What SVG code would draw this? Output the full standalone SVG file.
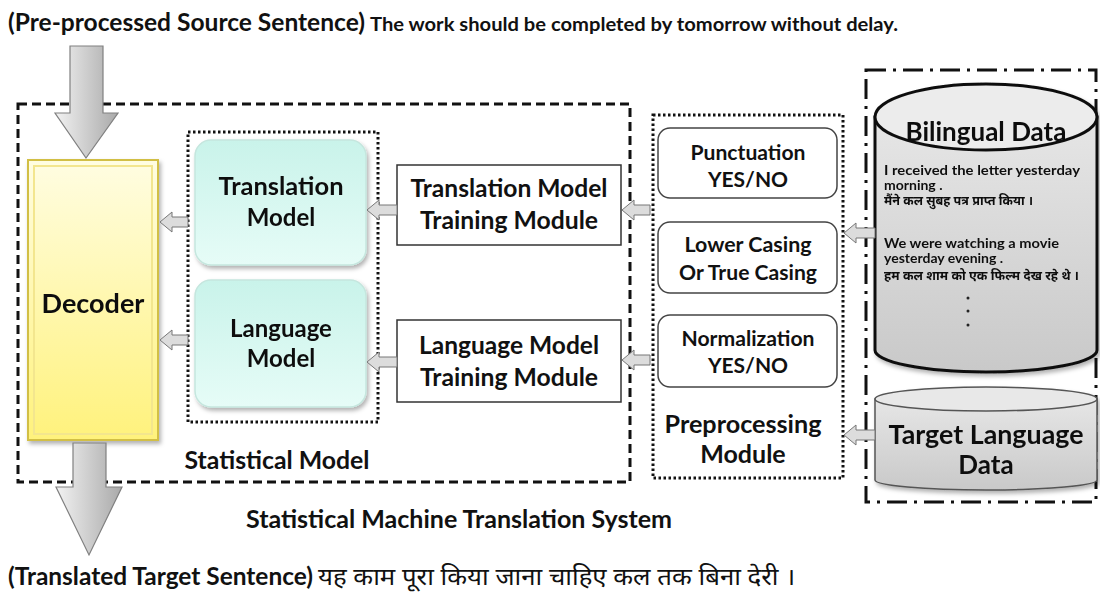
<svg xmlns="http://www.w3.org/2000/svg" width="1100" height="593" viewBox="0 0 1100 593">
<style>
text{font-family:"Lato","Liberation Sans",sans-serif;font-weight:bold;fill:#111;}
.hi{font-family:"Noto Sans Devanagari","Noto Sans","Lato","Liberation Sans",sans-serif;}
.c{text-anchor:middle;}
.box{fill:#fff;stroke:#333;stroke-width:1.5;}
.opt{fill:#fff;stroke:#444;stroke-width:1.5;}
.model{fill:url(#gCyan);stroke:#c5e6de;stroke-width:1.5;}
.sarrow{fill:#dcdcdc;stroke:#777;stroke-width:1;}
.big{fill:url(#gGray);stroke:#808080;stroke-width:1.2;}
</style>
<defs>
<linearGradient id="gGray" x1="0" y1="0" x2="1" y2="0">
<stop offset="0" stop-color="#f2f2f2"/><stop offset="1" stop-color="#a9a9a9"/>
</linearGradient>
<linearGradient id="gCyan" x1="0" y1="0" x2="0" y2="1">
<stop offset="0" stop-color="#c9f3ea"/><stop offset="1" stop-color="#e6fcf7"/>
</linearGradient>
<linearGradient id="gYel" x1="0" y1="0" x2="0" y2="1">
<stop offset="0" stop-color="#fffde2"/><stop offset="1" stop-color="#fff27c"/>
</linearGradient>
<linearGradient id="gCyl" x1="0" y1="0" x2="0" y2="1">
<stop offset="0" stop-color="#e6e6e6"/><stop offset="1" stop-color="#c9c9c9"/>
</linearGradient>
<filter id="sh" x="-10%" y="-10%" width="125%" height="125%">
<feDropShadow dx="2" dy="3" stdDeviation="2" flood-color="#000" flood-opacity="0.3"/>
</filter>
</defs>

<!-- titles -->
<text x="8" y="31" font-size="24" textLength="357" lengthAdjust="spacingAndGlyphs">(Pre-processed Source Sentence)</text>
<text x="370" y="31" font-size="18" textLength="528" lengthAdjust="spacingAndGlyphs">The work should be completed by tomorrow without delay.</text>

<!-- containers -->
<g id="statistical-model-box">
<rect x="18" y="104" width="612" height="378" fill="none" stroke="#111" stroke-width="3" stroke-dasharray="9,5"/>
<text x="277" y="469" font-size="24" class="c" textLength="185" lengthAdjust="spacingAndGlyphs">Statistical Model</text>
</g>
<g id="models-box">
<rect x="188" y="132" width="190" height="290" fill="none" stroke="#111" stroke-width="3" stroke-dasharray="2.5,2.5"/>
</g>
<g id="preprocessing-module">
<rect x="653" y="115" width="190" height="363" fill="none" stroke="#111" stroke-width="3" stroke-dasharray="2.5,2.5"/>
<text x="743" y="433" font-size="25" class="c" textLength="157" lengthAdjust="spacingAndGlyphs">Preprocessing</text>
<text x="743" y="463" font-size="25" class="c">Module</text>
</g>
<g id="data-box">
<rect x="866" y="70" width="230" height="432" fill="none" stroke="#111" stroke-width="3" stroke-dasharray="20,7,3,7"/>
</g>

<!-- nodes -->
<g id="decoder" filter="url(#sh)">
<rect x="28" y="160" width="130" height="280" fill="url(#gYel)" stroke="#d2bf45" stroke-width="2"/>
<rect x="34" y="166" width="118" height="268" fill="none" stroke="#f3e68e" stroke-width="2"/>
<text x="93" y="313" font-size="27" class="c">Decoder</text>
</g>
<g id="translation-model" filter="url(#sh)">
<rect x="195" y="140" width="171" height="125" rx="16" class="model"/>
<text x="281" y="195" font-size="24" class="c" textLength="125" lengthAdjust="spacingAndGlyphs">Translation</text>
<text x="281" y="226" font-size="24" class="c">Model</text>
</g>
<g id="language-model" filter="url(#sh)">
<rect x="195" y="280" width="171" height="127" rx="16" class="model"/>
<text x="281" y="337" font-size="24" class="c">Language</text>
<text x="281" y="367" font-size="24" class="c">Model</text>
</g>
<g id="tm-training">
<rect x="397" y="165" width="224" height="80" class="box"/>
<text x="509" y="197" font-size="24" class="c" textLength="197" lengthAdjust="spacingAndGlyphs">Translation Model</text>
<text x="509" y="229" font-size="24" class="c" textLength="178" lengthAdjust="spacingAndGlyphs">Training Module</text>
</g>
<g id="lm-training">
<rect x="397" y="320" width="224" height="82" class="box"/>
<text x="509" y="354" font-size="24" class="c" textLength="180" lengthAdjust="spacingAndGlyphs">Language Model</text>
<text x="509" y="386" font-size="24" class="c" textLength="178" lengthAdjust="spacingAndGlyphs">Training Module</text>
</g>
<g id="punctuation">
<rect x="658" y="128" width="179" height="70" rx="12" class="opt"/>
<text x="748" y="160" font-size="21" class="c" textLength="115" lengthAdjust="spacingAndGlyphs">Punctuation</text>
<text x="748" y="187" font-size="21" class="c">YES/NO</text>
</g>
<g id="casing">
<rect x="658" y="222" width="179" height="71" rx="12" class="opt"/>
<text x="748" y="252" font-size="21" class="c" textLength="127" lengthAdjust="spacingAndGlyphs">Lower Casing</text>
<text x="748" y="280" font-size="21" class="c" textLength="138" lengthAdjust="spacingAndGlyphs">Or True Casing</text>
</g>
<g id="normalization">
<rect x="658" y="315" width="179" height="72" rx="12" class="opt"/>
<text x="748" y="346" font-size="21" class="c" textLength="133" lengthAdjust="spacingAndGlyphs">Normalization</text>
<text x="748" y="373" font-size="21" class="c">YES/NO</text>
</g>
<g id="bilingual-data" filter="url(#sh)">
<path d="M875,117 L875,350 A111,22 0 0 0 1097,350 L1097,117 Z" fill="url(#gCyl)" stroke="#111" stroke-width="3"/>
<ellipse cx="986" cy="117" rx="111" ry="33" fill="#ececec" stroke="#111" stroke-width="3"/>
<text x="986" y="141" font-size="26" class="c" textLength="161" lengthAdjust="spacingAndGlyphs">Bilingual Data</text>
<g font-size="14">
<text x="884" y="175" textLength="196" lengthAdjust="spacingAndGlyphs">I received the letter yesterday</text>
<text x="884" y="190">morning .</text>
<text x="884" y="205" class="hi" font-size="13" textLength="149" lengthAdjust="spacingAndGlyphs">मैंने कल सुबह पत्र प्राप्त किया ।</text>
<text x="884" y="248" textLength="175" lengthAdjust="spacingAndGlyphs">We were watching a movie</text>
<text x="884" y="263">yesterday evening .</text>
<text x="884" y="280" class="hi" font-size="13" textLength="195" lengthAdjust="spacingAndGlyphs">हम कल शाम को एक फिल्म देख रहे थे ।</text>
</g>
<circle cx="968" cy="298" r="1.5" fill="#222"/>
<circle cx="968" cy="311" r="1.5" fill="#222"/>
<circle cx="968" cy="325" r="1.5" fill="#222"/>
</g>
<g id="target-language-data" filter="url(#sh)">
<path d="M875,399 L875,480 A111,10 0 0 0 1097,480 L1097,399 Z" fill="url(#gCyl)" stroke="#555" stroke-width="1.5"/>
<ellipse cx="986" cy="399" rx="111" ry="12" fill="#e8e8e8" stroke="#555" stroke-width="1.5"/>
<text x="986" y="444" font-size="26" class="c" textLength="195" lengthAdjust="spacingAndGlyphs">Target Language</text>
<text x="986" y="474" font-size="26" class="c">Data</text>
</g>

<!-- connectors -->
<g id="connectors">
<path class="big" d="M70,46 H103 V113 H118 L86,158 L55,113 H70 Z"/>
<path class="big" d="M73,443 H106 V487 H122 L89,555 L56,487 H73 Z"/>
<path class="sarrow" d="M160,222 L172,212 V217 H188 V227 H172 V232 Z"/>
<path class="sarrow" d="M160,340 L172,330 V335 H188 V345 H172 V350 Z"/>
<path class="sarrow" d="M367,210 L379,200 V205 H397 V215 H379 V220 Z"/>
<path class="sarrow" d="M367,362 L379,352 V357 H397 V367 H379 V372 Z"/>
<path class="sarrow" d="M622,210 L634,200 V205 H650 V215 H634 V220 Z"/>
<path class="sarrow" d="M622,360 L634,350 V355 H650 V365 H634 V370 Z"/>
<path class="sarrow" d="M844,233 L856,223 V228 H875 V238 H856 V243 Z"/>
<path class="sarrow" d="M844,435 L856,425 V430 H875 V440 H856 V445 Z"/>
</g>

<text x="459" y="528" font-size="24" class="c" textLength="426" lengthAdjust="spacingAndGlyphs">Statistical Machine Translation System</text>
<text x="8" y="585" font-size="24" textLength="305" lengthAdjust="spacingAndGlyphs">(Translated Target Sentence)</text>
<text x="318" y="585" font-size="24" class="hi" style="font-weight:normal" textLength="477" lengthAdjust="spacingAndGlyphs">यह काम पूरा किया जाना चाहिए कल तक बिना देरी ।</text>
</svg>
